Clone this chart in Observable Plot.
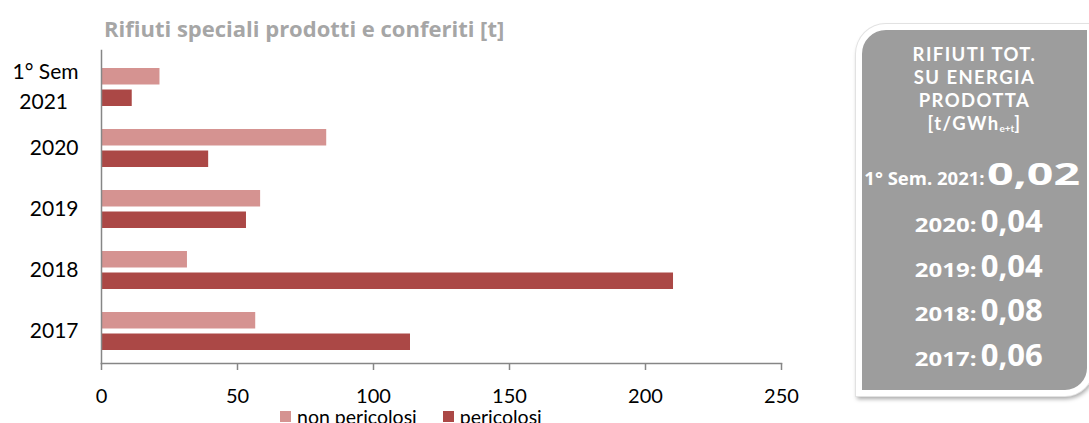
<!DOCTYPE html>
<html>
<head>
<meta charset="utf-8">
<script src="https://cdn.jsdelivr.net/npm/d3@7"></script>
<script src="https://cdn.jsdelivr.net/npm/@observablehq/plot@0.6"></script>
<style>
  html, body { margin: 0; padding: 0; background: #fff; }
  #root { position: relative; width: 1089px; height: 423px; overflow: hidden; background: #fff; font-family: Lato, sans-serif; }
  #title { position: absolute; left: 104px; top: 16.5px; font-family: "Open Sans", sans-serif; font-size: 22px; font-weight: 700; color: #a6a6a6; line-height: 1; white-space: nowrap; }
  #chart { position: absolute; left: 0; top: 0; }
  #legend { position: absolute; left: 280px; top: 400px; }
  .leg-swatch { margin-right: 26px !important; }
  .leg-swatch > svg { margin-right: 6px !important; }
  #panel { position: absolute; left: 856px; top: 24px; width: 225px; height: 360px; background: #9d9d9d; border: 6px solid #fff;
           border-radius: 30px 0 28px 0; box-shadow: 0 0 0 1px #e2e2e2, 1px 3px 4px rgba(0,0,0,0.35); }
  .pl { position: absolute; left: 0; width: 100%; text-align: center; color: #fff; font-family: "Open Sans", sans-serif; font-weight: 700; line-height: 1; white-space: nowrap; }
  .pl.hd { font-family: Lato, sans-serif; letter-spacing: 1.4px; }
  .pl sub { font-size: 10px; vertical-align: -2px; line-height: 0; letter-spacing: 0; }
  .pl span { display: inline-block; }
</style>
</head>
<body>
<div id="root">
  <div id="chart"></div>
  <div id="title">Rifiuti speciali prodotti e conferiti [t]</div>
  <div id="legend"></div>
  <div id="panel"></div>
</div>
<script>
// ---- data ----
const years = ["1° Sem 2021", "2020", "2019", "2018", "2017"];
const yearLabels = ["1° Sem\n2021\u2002", "2020", "2019", "2018", "2017"];
const nonPericolosi = [21.5, 82.8, 58.5, 31.6, 56.7];
const pericolosi = [11.3, 39.4, 53.3, 210.3, 113.6];
const series = ["non pericolosi", "pericolosi"];
const seriesColors = ["#d59391", "#ab4846"];
const xTicks = [0, 50, 100, 150, 200, 250];

const panelHeader = ["RIFIUTI TOT.", "SU ENERGIA", "PRODOTTA", "[t/GWh"];
const panelUnitSub = "e+t";
const panelLabels = ["1° Sem. 2021:", "2020:", "2019:", "2018:", "2017:"];
const panelValues = ["0,02", "0,04", "0,04", "0,08", "0,06"];

// ---- table ----
const table = [];
years.forEach((y, i) => {
  table.push({year: y, type: series[0], value: nonPericolosi[i]});
  table.push({year: y, type: series[1], value: pericolosi[i]});
});
const labelOf = new Map(years.map((y, i) => [y, yearLabels[i]]));

const chart = Plot.plot({
  width: 850,
  height: 405,
  marginLeft: 101,
  marginRight: 69,
  marginTop: 50,
  marginBottom: 42,
  style: {fontFamily: "Lato, sans-serif", background: "transparent", overflow: "visible", color: "#000"},
  x: {domain: [0, 250], axis: null},
  y: {domain: years, range: [55, 363], paddingInner: 0.377, paddingOuter: 0.19, axis: null},
  color: {domain: series, range: seriesColors},
  marks: [
    Plot.barX(table.filter(d => d.type === series[0]), {x: "value", y: "year", fill: "type", insetBottom: 21.5}),
    Plot.barX(table.filter(d => d.type === series[1]), {x: "value", y: "year", fill: "type", insetTop: 21.5}),
    Plot.axisX({ticks: xTicks, label: null, tickSize: 7, tickPadding: 18, stroke: "#868686", strokeWidth: 1.5, fill: "#000", fontSize: 20, tickFormat: d => String(d)}),
    Plot.axisY({label: null, tickSize: 0, tickPadding: 23, dy: -3, fontSize: 21, fill: "#000", lineHeight: 1.45, tickFormat: d => labelOf.get(d)}),
    Plot.frame({anchor: "left", stroke: "#868686", strokeWidth: 1.5}),
    Plot.frame({anchor: "bottom", stroke: "#868686", strokeWidth: 1.5})
  ]
});
document.getElementById("chart").appendChild(chart);

const legend = Plot.legend({
  color: {domain: series, range: seriesColors, type: "ordinal"},
  swatchSize: 11,
  className: "leg",
  style: {fontSize: "19.5px", fontFamily: "Lato, sans-serif", color: "#000", background: "transparent"}
});
document.getElementById("legend").appendChild(legend);

// ---- side panel ----
const panel = document.getElementById("panel");
const panelTop = 30; // grey area top in page coords
function addLine(html, baseline, size, cls) {
  const d = document.createElement("div");
  d.className = "pl" + (cls ? " " + cls : "");
  d.style.fontSize = size + "px";
  d.style.top = (baseline - panelTop - 0.888 * size) + "px";
  d.innerHTML = html;
  panel.appendChild(d);
  return d;
}
const headerBaselines = [61.7, 84.5, 107.3, 130];
panelHeader.forEach((t, i) => {
  const html = i === panelHeader.length - 1 ? `${t}<sub>${panelUnitSub}</sub>]` : t;
  addLine(html, headerBaselines[i], 18.5, "hd");
});
const rowBaselines = [186, 233, 278, 322, 367];
panelLabels.forEach((t, i) => {
  const first = i === 0;
  const lab = first
    ? `<span style="font-size:18.5px">${t}</span>`
    : `<span style="font-size:20px;transform:scaleX(1.2);margin-right:9px;margin-left:14px">${t}</span>`;
  const val = first
    ? `<span style="font-size:31px;transform:scaleX(1.5);transform-origin:left;margin-left:2px;margin-right:36px">${panelValues[i]}</span>`
    : `<span style="font-size:31px">${panelValues[i]}</span>`;
  addLine(`${lab}${val}`, rowBaselines[i], 31);
});
</script>
</body>
</html>
